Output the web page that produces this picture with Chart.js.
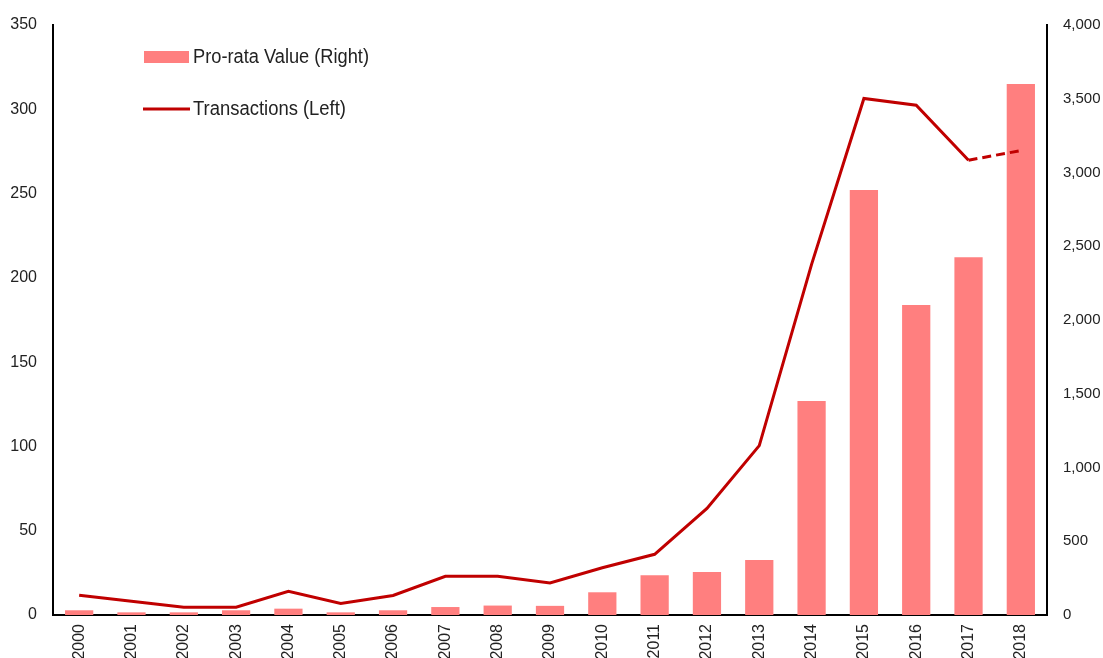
<!DOCTYPE html>
<html>
  <head>
    <title>Transactions and Pro-rata Value</title>
    <meta charset="utf-8" />
    <style>
      html, body { margin: 0; padding: 0; background: #fff; }
      canvas { display: block; }
    </style>
  </head>

  <body>
    <canvas id="myChart" width="1103" height="658"></canvas>
    <script src="https://cdn.jsdelivr.net/npm/chart.js@4.4.0/dist/chart.umd.min.js"></script>
    <script>
      const years = ["2000", "2001", "2002", "2003", "2004", "2005", "2006", "2007", "2008", "2009",
                     "2010", "2011", "2012", "2013", "2014", "2015", "2016", "2017", "2018"];
      // pro-rata value, right axis
      const proRataValue = [32, 18, 18, 32, 43, 18, 32, 54, 64, 62,
                            154, 269, 292, 373, 1451, 2881, 2102, 2425, 3600];
      // transactions, left axis
      const transactions = [11.7, 8.2, 4.6, 4.6, 14, 6.8, 11.6, 23, 23, 19,
                            28, 36, 63.2, 100.5, 208, 306.4, 302.4, 269.8, 275.5];
      // last point is an estimate, drawn dashed
      const dashedFrom = 17;

      const FONT = '"Liberation Sans Narrow", sans-serif';
      const BAR_COLOR = "#FF7F7F";
      const LINE_COLOR = "#C00000";

      // legend drawn inside the plot, top left
      const insideLegend = {
        id: "insideLegend",
        afterDraw(chart) {
          const ctx = chart.ctx;
          ctx.save();
          ctx.fillStyle = BAR_COLOR;
          ctx.fillRect(144, 51, 45, 12);
          ctx.strokeStyle = LINE_COLOR;
          ctx.lineWidth = 3;
          ctx.beginPath();
          ctx.moveTo(143, 109);
          ctx.lineTo(190, 109);
          ctx.stroke();
          ctx.font = "20px " + FONT;
          ctx.textBaseline = "middle";
          ctx.fillStyle = "#222";
          ctx.fillText(chart.data.datasets[1].label, 193, 57, 176);
          ctx.fillText(chart.data.datasets[0].label, 193, 109, 153);
          ctx.restore();
        }
      };

      const tickFont = { family: FONT, size: 16 };

      // fixed axis sizes; drop the label overhang so layout.padding sets the plot edges
      const fitTo = (w, h) => s => {
        if (w) s.width = w;
        if (h) s.height = h;
        s.paddingTop = 0;
        s.paddingBottom = 0;
        s.paddingLeft = 0;
        s.paddingRight = 0;
      };

      const ctx = document.getElementById("myChart").getContext("2d");
      const myChart = new Chart(ctx, {
        data: {
          labels: years,
          datasets: [
            {
              type: "line",
              label: "Transactions (Left)",
              data: transactions,
              yAxisID: "y",
              borderColor: LINE_COLOR,
              borderWidth: 3,
              pointRadius: 0,
              tension: 0,
              fill: false,
              order: 0,
              segment: {
                borderDash: c => (c.p0DataIndex >= dashedFrom ? [9, 5] : undefined)
              }
            },
            {
              type: "bar",
              label: "Pro-rata Value (Right)",
              data: proRataValue,
              yAxisID: "y1",
              backgroundColor: BAR_COLOR,
              barPercentage: 0.54,
              categoryPercentage: 1,
              order: 1
            }
          ]
        },
        options: {
          responsive: false,
          animation: false,
          layout: { padding: { top: 25, left: 0, right: 0, bottom: 0 } },
          plugins: {
            legend: { display: false },
            tooltip: { enabled: false }
          },
          scales: {
            x: {
              grid: { display: false, drawTicks: false },
              border: { display: true, color: "#000", width: 2 },
              ticks: {
                color: "#222",
                font: tickFont,
                minRotation: 90,
                maxRotation: 90,
                padding: 9
              },
              afterFit: fitTo(0, 43)
            },
            y: {
              position: "left",
              min: 0,
              max: 350,
              grid: { display: false, drawTicks: false },
              border: { display: true, color: "#000", width: 2 },
              ticks: {
                stepSize: 50,
                color: "#222",
                font: tickFont,
                padding: 16
              },
              afterFit: fitTo(53, 0)
            },
            y1: {
              position: "right",
              min: 0,
              max: 4000,
              grid: { display: false, drawTicks: false },
              border: { display: true, color: "#000", width: 2 },
              ticks: {
                stepSize: 500,
                color: "#222",
                font: { family: FONT, size: 15 },
                padding: 16,
                callback: v => v.toLocaleString("en-US")
              },
              afterFit: fitTo(56, 0)
            }
          }
        },
        plugins: [insideLegend]
      });
    </script>
  </body>
</html>
